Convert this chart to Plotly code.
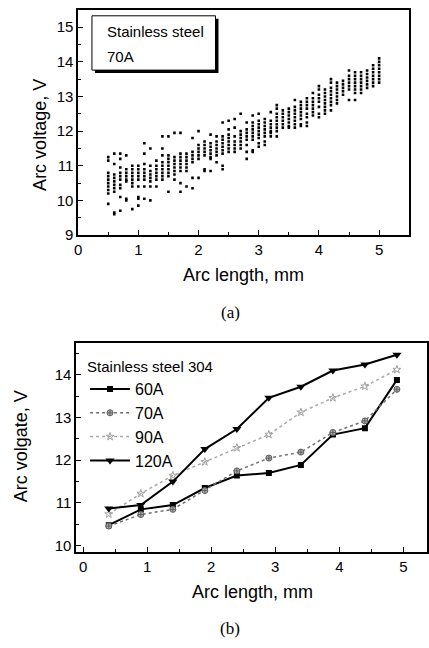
import plotly.graph_objects as go

W, H = 429, 648

# ---------------- (a) scatter data: Stainless steel, 70A ----------------
arc_len_a = [0.5, 0.6, 0.7, 0.8, 0.9, 1.0, 1.1, 1.2, 1.3, 1.4, 1.5, 1.6, 1.7, 1.8, 1.9,
             2.0, 2.1, 2.2, 2.3, 2.4, 2.5, 2.6, 2.7, 2.8, 2.9, 3.0, 3.1, 3.2, 3.3, 3.4,
             3.5, 3.6, 3.7, 3.8, 3.9, 4.0, 4.1, 4.2, 4.3, 4.4, 4.5, 4.6, 4.7, 4.8, 4.9, 5.0]
volt_a = [
    [11.25, 11.15, 10.8, 10.7, 10.6, 10.5, 10.4, 10.3, 10.2, 9.9],
    [11.35, 11.05, 10.75, 10.65, 10.55, 10.45, 10.35, 10.25, 9.65, 9.6],
    [11.35, 11.2, 10.95, 10.8, 10.7, 10.6, 10.45, 10.35, 10.1, 9.7],
    [11.3, 10.9, 10.8, 10.7, 10.6, 10.55, 10.05, 10.0],
    [11.0, 10.9, 10.8, 10.7, 10.6, 10.5, 10.4, 9.75],
    [11.0, 10.9, 10.8, 10.7, 10.6, 10.4, 10.1, 10.05, 9.85],
    [11.65, 11.35, 11.05, 10.9, 10.8, 10.7, 10.6, 10.4, 10.05],
    [11.5, 11.0, 10.85, 10.75, 10.65, 10.55, 10.4, 10.0],
    [11.15, 11.0, 10.9, 10.8, 10.7, 10.6, 10.4],
    [11.85, 11.5, 11.3, 11.1, 11.0, 10.9, 10.8, 10.7, 10.6],
    [11.85, 11.3, 11.2, 11.1, 11.0, 10.9, 10.8, 10.7, 10.25],
    [11.95, 11.25, 11.15, 11.05, 10.95, 10.85, 10.75, 10.6],
    [11.95, 11.35, 11.25, 11.15, 11.05, 10.95, 10.85, 10.5, 10.25],
    [11.35, 11.25, 11.15, 11.05, 10.95, 10.85, 10.4],
    [11.8, 11.4, 11.3, 11.2, 11.1, 10.65, 10.35],
    [12.0, 11.6, 11.5, 11.4, 11.3, 11.2, 10.65],
    [11.7, 11.6, 11.5, 11.4, 11.3, 10.9, 10.85],
    [11.9, 11.65, 11.55, 11.45, 11.35, 11.25, 11.2, 10.85],
    [11.85, 11.7, 11.6, 11.5, 11.4, 11.3, 11.1],
    [12.25, 11.85, 11.75, 11.65, 11.55, 11.45, 11.35, 11.0, 10.9],
    [12.3, 12.05, 11.9, 11.8, 11.7, 11.6, 11.5, 11.4],
    [12.35, 12.1, 11.85, 11.7, 11.6, 11.5, 11.4],
    [12.5, 12.0, 11.9, 11.8, 11.7, 11.6, 11.5],
    [12.25, 12.05, 11.95, 11.85, 11.75, 11.6, 11.4, 11.2],
    [12.45, 12.25, 12.15, 12.05, 11.95, 11.85, 11.75, 11.45, 11.4],
    [12.5, 12.3, 12.2, 12.1, 12.0, 11.9, 11.8, 11.65, 11.55],
    [12.35, 12.25, 12.15, 12.05, 11.95, 11.85, 11.7, 11.6],
    [12.55, 12.3, 12.2, 12.1, 12.0, 11.95, 11.85],
    [12.75, 12.65, 12.5, 12.4, 12.3, 12.2, 12.1, 12.0, 11.85],
    [12.6, 12.5, 12.4, 12.3, 12.2, 12.1],
    [12.65, 12.55, 12.45, 12.35, 12.25, 12.15, 12.1],
    [12.9, 12.7, 12.6, 12.5, 12.4, 12.3, 12.2, 12.1],
    [12.85, 12.75, 12.65, 12.55, 12.45, 12.35, 12.2, 12.15],
    [12.95, 12.85, 12.75, 12.65, 12.5, 12.4, 12.25, 12.15],
    [13.1, 12.95, 12.85, 12.75, 12.65, 12.55, 12.45],
    [13.3, 13.2, 13.05, 12.95, 12.85, 12.7, 12.5, 12.4],
    [13.2, 13.1, 13.0, 12.9, 12.8, 12.7, 12.6, 12.5],
    [13.5, 13.4, 13.25, 13.15, 13.05, 12.95, 12.85, 12.75, 12.6],
    [13.4, 13.3, 13.2, 13.1, 13.0, 12.9, 12.8],
    [13.45, 13.35, 13.25, 13.15, 13.05],
    [13.75, 13.6, 13.5, 13.4, 13.3, 13.2, 12.9],
    [13.7, 13.6, 13.5, 13.4, 13.3, 13.2, 13.1, 12.9],
    [13.7, 13.6, 13.5, 13.4, 13.3, 13.2, 13.1],
    [13.75, 13.65, 13.55, 13.45, 13.35, 13.25],
    [13.9, 13.8, 13.7, 13.6, 13.5, 13.4, 13.3],
    [14.1, 14.0, 13.9, 13.8, 13.7, 13.6, 13.5, 13.4],
]

# ---------------- (b) line data: Stainless steel 304 ----------------
arc_len_b = [0.4, 0.9, 1.4, 1.9, 2.4, 2.9, 3.4, 3.9, 4.4, 4.9]
v_60A = [10.48, 10.85, 10.95, 11.35, 11.64, 11.70, 11.89, 12.60, 12.75, 13.88]
v_70A = [10.46, 10.73, 10.85, 11.29, 11.75, 12.05, 12.19, 12.65, 12.92, 13.66]
v_90A = [10.74, 11.22, 11.64, 11.96, 12.29, 12.60, 13.12, 13.46, 13.73, 14.12]
v_120A = [10.87, 10.95, 11.50, 12.26, 12.73, 13.46, 13.72, 14.10, 14.24, 14.47]

x_ticks = [0, 1, 2, 3, 4, 5]
y_ticks_a = [9, 10, 11, 12, 13, 14, 15]
y_ticks_b = [10, 11, 12, 13, 14]

FONT = "Liberation Sans, Arial, Helvetica, sans-serif"
SERIF = "Liberation Serif, Times New Roman, serif"


def px_x(p):
    return p / W


def px_y(p):
    return 1 - p / H


xs_a, ys_a = [], []
for xv, col in zip(arc_len_a, volt_a):
    for v in col:
        xs_a.append(xv)
        ys_a.append(v)

fig = go.Figure()

fig.add_trace(go.Scatter(
    x=xs_a, y=ys_a, mode="markers", xaxis="x", yaxis="y", showlegend=False,
    marker=dict(symbol="square", size=2.6, color="black", line=dict(width=0)),
))

fig.add_trace(go.Scatter(
    x=arc_len_b, y=v_60A, name="60A", mode="lines+markers", xaxis="x2", yaxis="y2",
    line=dict(color="black", width=2),
    marker=dict(symbol="square", size=6, color="black"),
))
fig.add_trace(go.Scatter(
    x=arc_len_b, y=v_70A, name="70A", mode="lines+markers", xaxis="x2", yaxis="y2",
    line=dict(color="#707070", width=1.5, dash="dot"),
    marker=dict(symbol="circle-cross", size=6, color="#b0b0b0",
                line=dict(color="#606060", width=1)),
))
fig.add_trace(go.Scatter(
    x=arc_len_b, y=v_90A, name="90A", mode="lines+markers", xaxis="x2", yaxis="y2",
    line=dict(color="#a8a8a8", width=1.5, dash="dot"),
    marker=dict(symbol="star-open", size=6, color="#a0a0a0", line=dict(width=1)),
))
fig.add_trace(go.Scatter(
    x=arc_len_b, y=v_120A, name="120A", mode="lines+markers", xaxis="x2", yaxis="y2",
    line=dict(color="black", width=2),
    marker=dict(symbol="triangle-down", size=8, color="black"),
))

axis_common = dict(
    showline=True, linecolor="black", linewidth=1.5, mirror=True,
    ticks="inside", ticklen=5, tickwidth=1.2, tickcolor="black",
    showgrid=False, zeroline=False,
    tickfont=dict(family=FONT, size=15, color="black"),
    minor=dict(ticks="inside", ticklen=3, tickwidth=1, tickcolor="black", dtick=0.5),
)

fig.update_layout(
    width=W, height=H,
    margin=dict(l=0, r=0, t=0, b=0),
    paper_bgcolor="white", plot_bgcolor="white",
    font=dict(family=FONT, color="black"),
    xaxis=dict(axis_common, domain=[px_x(75), px_x(410)], range=[0, 5.5],
               tickvals=x_ticks, anchor="y"),
    yaxis=dict(axis_common, domain=[px_y(238), px_y(10)], range=[9, 15.5],
               tickvals=y_ticks_a, anchor="x"),
    xaxis2=dict(axis_common, domain=[px_x(73), px_x(428)], range=[-0.11, 5.37],
                tickvals=x_ticks, anchor="y2"),
    yaxis2=dict(axis_common, domain=[px_y(559), px_y(347)], range=[9.85, 14.75],
                tickvals=y_ticks_b, anchor="x2"),
    legend=dict(
        x=px_x(82), y=px_y(357), xanchor="left", yanchor="top",
        bgcolor="rgba(0,0,0,0)", borderwidth=0,
        font=dict(family=FONT, size=16, color="black"),
        title=dict(text="Stainless steel 304", font=dict(family=FONT, size=15, color="black")),
        tracegroupgap=0, itemwidth=40,
    ),
)

# legend box of (a): shadow + white box
fig.add_shape(type="rect", xref="paper", yref="paper",
              x0=px_x(92), x1=px_x(217), y0=px_y(74), y1=px_y(19),
              fillcolor="black", line=dict(width=0), layer="above")
fig.add_shape(type="rect", xref="paper", yref="paper",
              x0=px_x(89), x1=px_x(214), y0=px_y(71), y1=px_y(16),
              fillcolor="white", line=dict(color="black", width=1), layer="above")

annotations = [
    dict(text="Stainless steel", x=px_x(102), y=px_y(32), xanchor="left", yanchor="middle",
         font=dict(family=FONT, size=15)),
    dict(text="70A", x=px_x(102), y=px_y(57), xanchor="left", yanchor="middle",
         font=dict(family=FONT, size=15)),
    dict(text="Arc voltage, V", x=px_x(37), y=px_y(137), textangle=-90,
         xanchor="center", yanchor="middle", font=dict(family=FONT, size=18)),
    dict(text="Arc length, mm", x=px_x(242), y=px_y(278),
         xanchor="center", yanchor="middle", font=dict(family=FONT, size=18)),
    dict(text="(a)", x=px_x(229), y=px_y(316),
         xanchor="center", yanchor="middle", font=dict(family=SERIF, size=17)),
    dict(text="Arc volgate, V", x=px_x(18), y=px_y(452), textangle=-90,
         xanchor="center", yanchor="middle", font=dict(family=FONT, size=18)),
    dict(text="Arc length, mm", x=px_x(251), y=px_y(599),
         xanchor="center", yanchor="middle", font=dict(family=FONT, size=18)),
    dict(text="(b)", x=px_x(229), y=px_y(636),
         xanchor="center", yanchor="middle", font=dict(family=SERIF, size=17)),
]
for a in annotations:
    a.update(xref="paper", yref="paper", showarrow=False)
fig.update_layout(annotations=annotations)

fig.write_html("out.html", config={"displayModeBar": False},
               post_script="document.body.style.margin='0';document.body.style.overflow='hidden';")
